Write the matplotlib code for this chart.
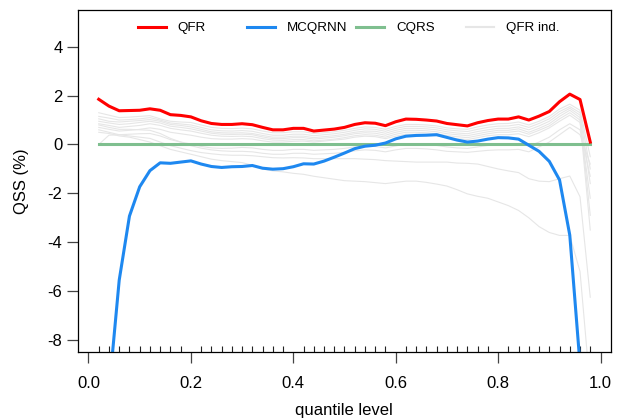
import numpy as np
import matplotlib.pyplot as plt
from matplotlib.legend import Legend

plt.rcParams["font.family"] = ["Liberation Sans", "DejaVu Sans"]
plt.rcParams["axes.unicode_minus"] = False

# quantile levels 0.02, 0.04, ..., 0.98
levels = np.linspace(0.02, 0.98, 49)

qfr = [1.85, 1.57, 1.38, 1.39, 1.40, 1.46, 1.40, 1.22, 1.19, 1.13,
       0.97, 0.86, 0.82, 0.82, 0.85, 0.81, 0.70, 0.60, 0.60, 0.66,
       0.66, 0.55, 0.59, 0.63, 0.70, 0.82, 0.89, 0.87, 0.77, 0.93,
       1.04, 1.03, 1.00, 0.96, 0.86, 0.81, 0.76, 0.89, 0.98, 1.04,
       1.04, 1.13, 1.00, 1.16, 1.35, 1.75, 2.06, 1.84, 0.10]

mcqrnn = [-16.0, -10.1, -5.55, -2.93, -1.73, -1.07, -0.75, -0.77, -0.72, -0.67,
          -0.80, -0.90, -0.94, -0.91, -0.90, -0.86, -0.97, -1.01, -0.99, -0.91,
          -0.79, -0.80, -0.68, -0.52, -0.35, -0.17, -0.07, -0.03, 0.06, 0.23,
          0.34, 0.37, 0.38, 0.40, 0.29, 0.18, 0.10, 0.14, 0.22, 0.28,
          0.27, 0.22, -0.03, -0.28, -0.69, -1.45, -3.71, -9.0, -16.0]

cqrs = [0.0] * 49

# individual QFR members
qfr_ind = [
    [1.30, 1.20, 1.10, 1.12, 1.15, 1.18, 1.05, 0.95, 0.92, 0.90,
     0.80, 0.70, 0.66, 0.65, 0.67, 0.64, 0.55, 0.48, 0.48, 0.52,
     0.52, 0.45, 0.48, 0.52, 0.58, 0.66, 0.72, 0.70, 0.62, 0.74,
     0.82, 0.82, 0.80, 0.76, 0.68, 0.64, 0.62, 0.72, 0.80, 0.85,
     0.86, 0.92, 0.80, 0.95, 1.15, 1.45, 1.65, 1.40, -0.50],
    [1.15, 1.08, 1.00, 1.02, 1.05, 1.10, 1.00, 0.88, 0.84, 0.80,
     0.70, 0.60, 0.56, 0.55, 0.57, 0.54, 0.45, 0.38, 0.38, 0.42,
     0.42, 0.36, 0.40, 0.44, 0.50, 0.58, 0.64, 0.62, 0.54, 0.66,
     0.74, 0.74, 0.72, 0.68, 0.60, 0.56, 0.53, 0.62, 0.70, 0.75,
     0.76, 0.82, 0.70, 0.86, 1.05, 1.35, 1.55, 1.30, -1.00],
    [1.05, 0.95, 0.92, 0.95, 0.98, 1.02, 0.95, 0.82, 0.78, 0.72,
     0.62, 0.52, 0.48, 0.47, 0.48, 0.45, 0.37, 0.30, 0.30, 0.34,
     0.34, 0.28, 0.32, 0.36, 0.42, 0.50, 0.55, 0.54, 0.46, 0.58,
     0.66, 0.66, 0.64, 0.60, 0.52, 0.47, 0.44, 0.53, 0.60, 0.66,
     0.66, 0.72, 0.60, 0.76, 0.95, 1.25, 1.48, 1.20, -1.60],
    [0.95, 0.88, 0.82, 0.85, 0.90, 0.95, 0.88, 0.75, 0.70, 0.64,
     0.55, 0.46, 0.42, 0.41, 0.42, 0.40, 0.31, 0.24, 0.24, 0.28,
     0.28, 0.22, 0.26, 0.30, 0.36, 0.44, 0.48, 0.46, 0.38, 0.50,
     0.58, 0.58, 0.56, 0.52, 0.44, 0.40, 0.36, 0.44, 0.52, 0.58,
     0.58, 0.64, 0.50, 0.66, 0.85, 1.15, 1.40, 1.10, -2.90],
    [0.85, 0.78, 0.70, 0.74, 0.78, 0.85, 0.78, 0.66, 0.60, 0.55,
     0.46, 0.38, 0.34, 0.33, 0.34, 0.32, 0.24, 0.18, 0.17, 0.20,
     0.20, 0.15, 0.18, 0.22, 0.28, 0.36, 0.40, 0.38, 0.30, 0.42,
     0.50, 0.50, 0.48, 0.44, 0.36, 0.32, 0.28, 0.36, 0.44, 0.50,
     0.50, 0.55, 0.42, 0.58, 0.76, 1.05, 1.30, 1.00, -3.50],
    [0.70, 0.62, 0.55, 0.58, 0.62, 0.68, 0.62, 0.50, 0.44, 0.38,
     0.30, 0.24, 0.22, 0.22, 0.24, 0.22, 0.15, 0.10, 0.10, 0.13,
     0.14, 0.10, 0.14, 0.18, 0.22, 0.30, 0.34, 0.32, 0.24, 0.34,
     0.42, 0.42, 0.40, 0.36, 0.28, 0.24, 0.20, 0.28, 0.36, 0.40,
     0.40, 0.44, 0.32, 0.48, 0.68, 0.95, 1.20, 0.90, -2.20],
    [0.60, 0.50, 0.40, 0.42, 0.44, 0.45, 0.35, 0.20, 0.10, 0.02,
     -0.08, -0.14, -0.16, -0.15, -0.12, -0.14, -0.20, -0.24, -0.24, -0.20,
     -0.20, -0.24, -0.22, -0.20, -0.16, -0.10, -0.06, -0.08, -0.14, -0.06,
     0.02, 0.02, 0.00, -0.04, -0.10, -0.14, -0.16, -0.10, -0.04, 0.00,
     0.00, 0.04, -0.06, 0.10, 0.30, 0.60, 0.85, 0.60, -1.30],
    [0.80, 0.70, 0.62, 0.62, 0.60, 0.58, 0.45, 0.25, 0.10, -0.05,
     -0.15, -0.22, -0.26, -0.28, -0.28, -0.30, -0.36, -0.40, -0.40, -0.36,
     -0.36, -0.40, -0.38, -0.36, -0.32, -0.26, -0.22, -0.24, -0.30, -0.22,
     -0.16, -0.16, -0.18, -0.22, -0.28, -0.30, -0.32, -0.28, -0.24, -0.22,
     -0.22, -0.20, -0.30, -0.10, 0.10, 0.40, 0.70, 0.40, -0.80],
    [0.00, 0.38, 0.40, 0.35, 0.30, 0.25, 0.10, -0.05, -0.15, -0.25,
     -0.33, -0.38, -0.42, -0.44, -0.44, -0.46, -0.50, -0.54, -0.55, -0.54,
     -0.55, -0.58, -0.58, -0.58, -0.58, -0.58, -0.60, -0.62, -0.66, -0.68,
     -0.70, -0.72, -0.72, -0.72, -0.72, -0.76, -0.77, -0.80, -0.90, -1.00,
     -1.08, -1.15, -1.40, -1.50, -1.52, -1.40, -1.29, -2.14, -6.25],
    [0.50, 0.45, 0.35, 0.30, 0.20, 0.10, -0.05, -0.20, -0.30, -0.40,
     -0.50, -0.60, -0.66, -0.70, -0.74, -0.85, -1.00, -1.08, -1.12, -1.18,
     -1.22, -1.30, -1.36, -1.42, -1.48, -1.50, -1.52, -1.56, -1.60, -1.55,
     -1.50, -1.50, -1.55, -1.62, -1.70, -1.85, -2.02, -2.12, -2.20, -2.35,
     -2.50, -2.70, -3.00, -3.36, -3.60, -3.72, -3.72, -5.20, -10.0],
]

labels = ["QFR", "MCQRNN", "CQRS", "QFR ind."]
colors = ["#ff0000", "#1e88f0", "#7fbf8f", "#e6e6e6"]

fig = plt.figure(figsize=(6.21, 4.19), dpi=100)
ax = fig.add_axes([0.1251, 0.1599, 0.8583, 0.8155])

for member in qfr_ind:
    ax.plot(levels, member, color=colors[3], lw=0.8)
h_cqrs, = ax.plot(levels, cqrs, color=colors[2], lw=2.2)
h_qfr, = ax.plot(levels, qfr, color=colors[0], lw=2.2)
h_mcq, = ax.plot(levels, mcqrnn, color=colors[1], lw=2.2)
h_ind = plt.Line2D([], [], color=colors[3], lw=1.5)

ax.set_xlim(-0.0211, 1.0199)
ax.set_ylim(-8.49, 5.49)
ax.set_xticks([0.0, 0.2, 0.4, 0.6, 0.8, 1.0])
ax.set_xticklabels(["0.0", "0.2", "0.4", "0.6", "0.8", "1.0"])
ax.set_yticks([-8, -6, -4, -2, 0, 2, 4])
ax.set_xticks(levels, minor=True)
ax.tick_params(axis="both", which="major", length=8, width=0.9,
               color="#444444", labelsize=12)
ax.tick_params(axis="x", which="major", pad=9)
ax.tick_params(axis="y", which="major", pad=3)
ax.tick_params(axis="x", which="minor", direction="in", length=4,
               width=0.8, color="#222222")
for sp in ax.spines.values():
    sp.set_linewidth(0.9)

ax.set_xlabel("quantile level", fontsize=12, labelpad=9)
ax.set_ylabel("QSS (%)", fontsize=12, labelpad=13)

# legend laid out like R's horizontal legend: equal column widths
handles = [h_qfr, h_mcq, h_cqrs, h_ind]
starts = [0.1124, 0.317, 0.522, 0.7285]
for h, lab, x0 in zip(handles, labels, starts):
    leg = Legend(ax, [h], [lab], loc="center left", bbox_to_anchor=(x0, 0.948),
                 frameon=False, fontsize=9.6, handlelength=2.1,
                 handletextpad=0.9, borderpad=0, borderaxespad=0)
    ax.add_artist(leg)

fig.savefig("out.png", dpi=100)
